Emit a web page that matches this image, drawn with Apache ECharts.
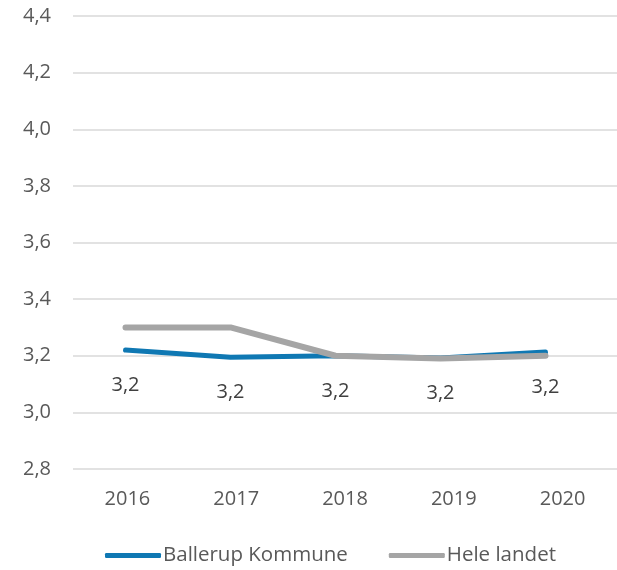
<!DOCTYPE html>
<html><head><meta charset="utf-8">
<script src="https://cdn.jsdelivr.net/npm/echarts@6/dist/echarts.min.js"></script>
<style>html,body{margin:0;padding:0;background:#fff}#c{width:617px;height:570px}</style>
</head><body><div id="c"></div>
<script>
const categories = ['2016', '2017', '2018', '2019', '2020'];
const ballerup = [3.22, 3.195, 3.20, 3.192, 3.213];
const heleLandet = [3.30, 3.30, 3.20, 3.19, 3.20];
const yMin = 2.8, yMax = 4.4, yStep = 0.2;

const fmt = v => v.toFixed(1).replace('.', ',');
const font = '"Open Sans", sans-serif';
const chart = echarts.init(document.getElementById('c'), null, {renderer: 'canvas'});
chart.setOption({
  animation: false,
  grid: [
    {left: 73, right: 0, top: 16, bottom: 101},
    {left: 73, right: 19, top: 16, bottom: 101}
  ],
  xAxis: [
    {type: 'category', gridIndex: 0, data: categories, boundaryGap: true,
     axisLine: {show: false}, axisTick: {show: false},
     axisLabel: {color: '#595959', fontSize: 20, fontFamily: font, margin: 20}},
    {type: 'category', gridIndex: 1, data: categories, boundaryGap: true, show: false}
  ],
  yAxis: [
    {type: 'value', gridIndex: 0, min: yMin, max: yMax, interval: yStep,
     axisLine: {show: false}, axisTick: {show: false},
     axisLabel: {color: '#595959', fontSize: 20, fontFamily: font, margin: 22, formatter: fmt},
     splitLine: {lineStyle: {color: '#D9D9D9', width: 1.5}}},
    {type: 'value', gridIndex: 1, min: yMin, max: yMax, interval: yStep, show: false,
     splitLine: {show: false}}
  ],
  legend: {
    left: 100, top: 540, itemWidth: 56, itemHeight: 5, itemGap: 41,
    icon: 'roundRect',
    textStyle: {color: '#595959', fontSize: 20.5, fontFamily: font, padding: [0, 0, 0, -3]},
    data: ['Ballerup Kommune', 'Hele landet']
  },
  series: [
    {name: 'Ballerup Kommune', type: 'line', xAxisIndex: 1, yAxisIndex: 1, data: ballerup,
     showSymbol: true, symbol: 'circle', symbolSize: 0.1, color: '#0F78B3',
     labelLayout: {hideOverlap: false},
     lineStyle: {width: 5, color: '#0F78B3', cap: 'round', join: 'round'},
     label: {show: true, position: 'bottom', distance: 25, color: '#404040', fontSize: 20, fontFamily: font,
       formatter: p => fmt(p.value)}},
    {name: 'Hele landet', type: 'line', xAxisIndex: 1, yAxisIndex: 1, data: heleLandet,
     showSymbol: false, symbol: 'none', color: '#A5A5A5',
     lineStyle: {width: 6, color: '#A5A5A5', cap: 'round', join: 'round'}}
  ]
});
</script></body></html>
